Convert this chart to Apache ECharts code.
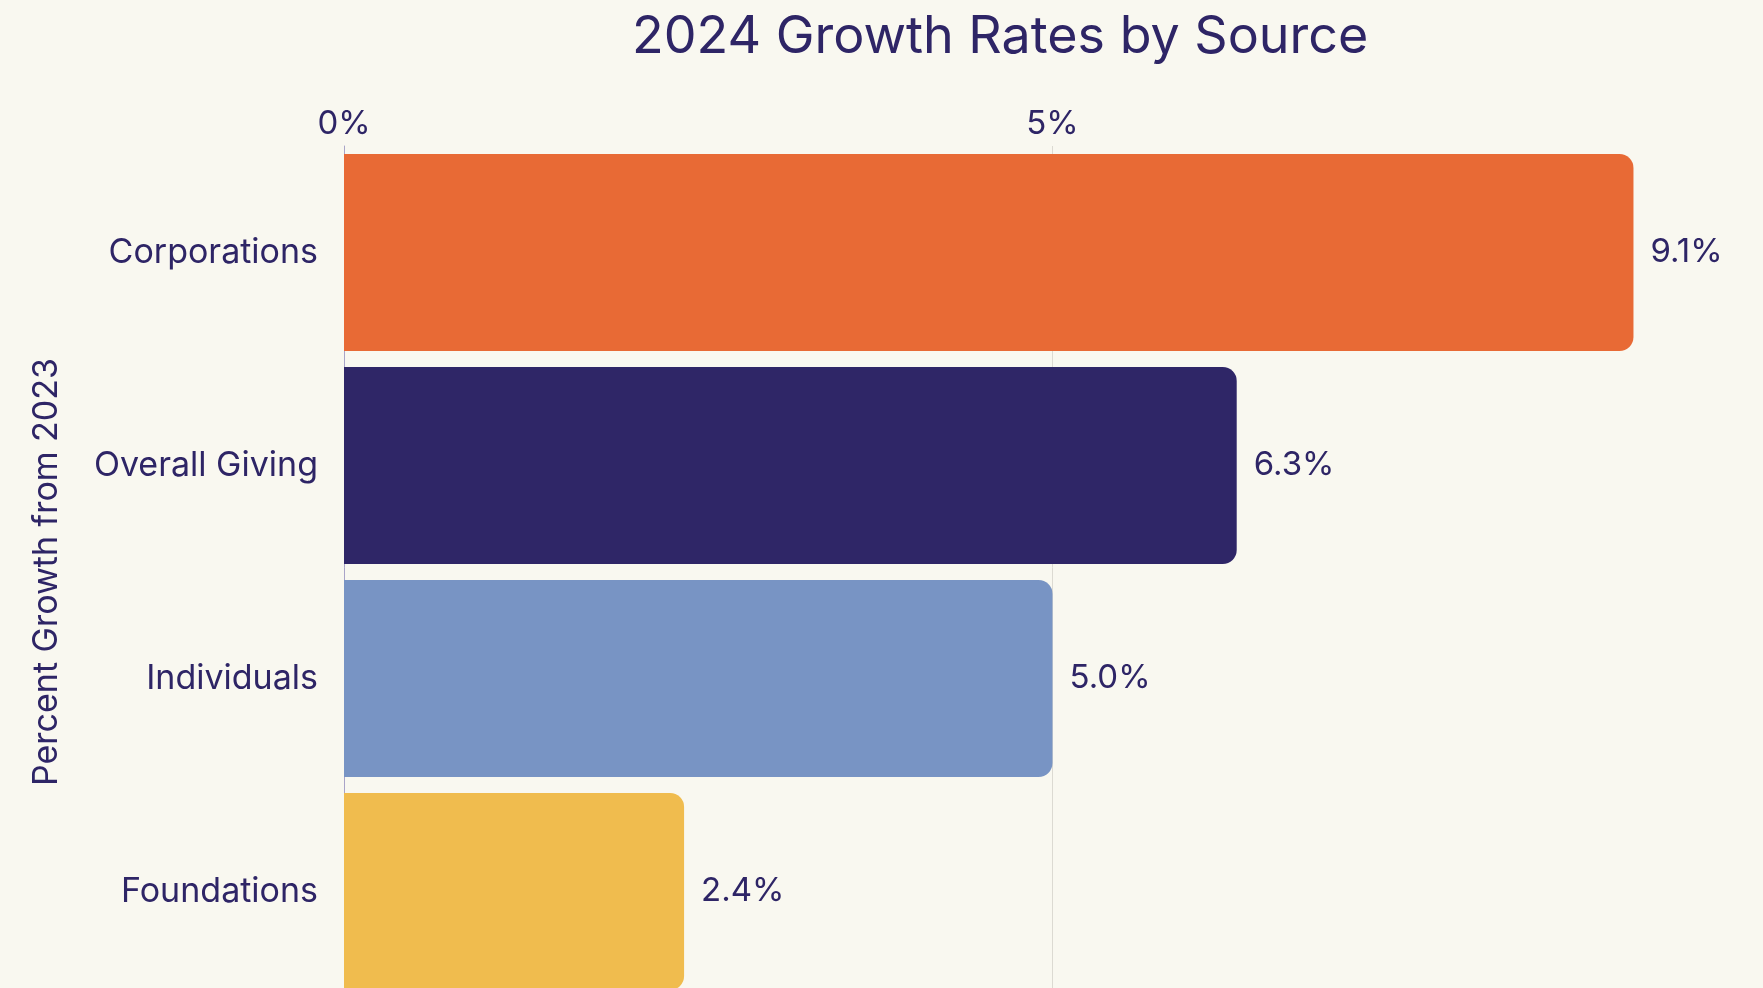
<!DOCTYPE html>
<html>
<head>
<meta charset="utf-8">
<title>2024 Growth Rates by Source</title>
<script src="https://cdn.jsdelivr.net/npm/echarts@6/dist/echarts.min.js"></script>
<style>
  html, body { margin: 0; padding: 0; background: #F9F8F0; }
  #chart { width: 1763px; height: 988px; }
</style>
</head>
<body>
<div id="chart"></div>
<script>
// data
const sources = ['Corporations', 'Overall Giving', 'Individuals', 'Foundations']
const growth = [9.1, 6.3, 5.0, 2.4]
const barColors = ['#E86A35', '#2F2667', '#7894C4', '#F0BC4E']

const ink = '#2E2566'
const font = 'Inter'

const chart = echarts.init(document.getElementById('chart'))
chart.setOption({
	backgroundColor: '#F9F8F0',
	textStyle: { fontFamily: font, color: ink },
	title: {
		text: '2024 Growth Rates by Source',
		left: 627,
		top: 6,
		textStyle: { color: ink, fontFamily: font, fontSize: 52, fontWeight: 'normal' }
	},
	grid: {
		left: 344,
		right: 2,
		top: 146,
		height: 852,
		outerBoundsMode: 'none',
		containLabel: false
	},
	xAxis: {
		type: 'value',
		position: 'top',
		min: 0,
		max: 10,
		interval: 5,
		axisLine: { show: false },
		axisTick: { show: false },
		splitLine: { show: true, showMaxLine: false, lineStyle: { color: '#DCDAD2', width: 1 } },
		axisLabel: {
			color: ink,
			fontSize: 33,
			margin: 5,
			showMaxLabel: false,
			formatter: v => v + '%'
		}
	},
	yAxis: {
		type: 'category',
		inverse: true,
		data: sources,
		name: 'Percent Growth from 2023',
		nameLocation: 'middle',
		nameGap: 280,
		nameRotate: 90,
		nameTextStyle: { color: ink, fontSize: 34, fontFamily: font },
		axisLine: { show: true, lineStyle: { color: '#A9A4C8', width: 1 } },
		axisTick: { show: false },
		axisLabel: { color: ink, fontSize: 34, margin: 26 }
	},
	series: [{
		type: 'bar',
		data: growth.map((v, i) => ({ value: v, itemStyle: { color: barColors[i] } })),
		barCategoryGap: '7.5%',
		itemStyle: { borderRadius: [0, 14, 14, 0] },
		label: {
			show: true,
			position: 'right',
			distance: 17,
			color: ink,
			fontSize: 33,
			fontFamily: font,
			formatter: p => p.value.toFixed(1) + '%'
		},
		animation: false
	}]
})
</script>
</body>
</html>
